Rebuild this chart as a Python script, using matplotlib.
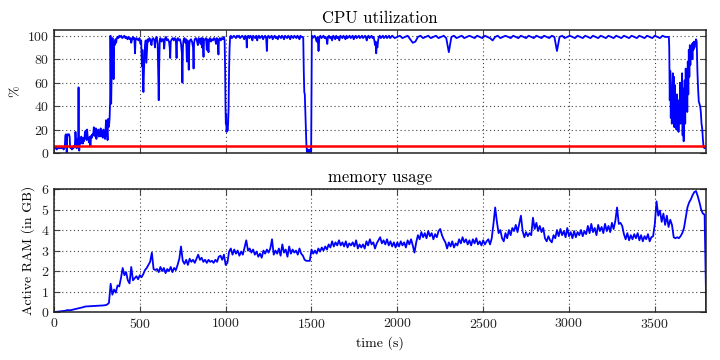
import numpy as np
import matplotlib
matplotlib.use("Agg")
import matplotlib.pyplot as plt

# ---------------- data ----------------
cpu_time = [
    0, 4, 8, 12, 16, 20, 24, 28, 32, 36,
    40, 44, 48, 52, 56, 60, 63, 66, 70, 73,
    74, 76, 79, 83, 87, 91, 94, 97, 101, 105,
    109, 113, 117, 121, 125, 129, 132, 135, 138, 141,
    143, 145, 147, 150, 153, 156, 159, 162, 165, 168,
    171, 174, 177, 180, 184, 187, 190, 193, 196, 200,
    203, 206, 209, 212, 215, 218, 221, 224, 228, 232,
    235, 238, 241, 244, 247, 250, 254, 258, 261, 264,
    268, 272, 275, 278, 282, 285, 288, 291, 294, 297,
    300, 303, 306, 309, 312, 315, 318, 321, 324, 327,
    329, 331, 333, 335, 337, 339, 341, 343, 345, 347,
    349, 351, 354, 358, 362, 366, 370, 375, 380, 386,
    392, 398, 404, 410, 416, 422, 428, 434, 440, 446,
    450, 455, 460, 465, 468, 472, 475, 480, 486, 492,
    498, 504, 508, 512, 515, 518, 521, 524, 527, 530,
    534, 538, 541, 545, 550, 556, 562, 568, 572, 578,
    584, 588, 592, 598, 604, 607, 610, 613, 616, 620,
    626, 632, 638, 642, 646, 652, 658, 664, 670, 674,
    677, 680, 686, 692, 698, 704, 710, 714, 717, 722,
    728, 734, 740, 745, 748, 751, 754, 760, 766, 770,
    774, 778, 782, 785, 788, 792, 798, 804, 810, 813,
    816, 820, 826, 832, 838, 842, 848, 854, 858, 862,
    866, 871, 874, 880, 886, 890, 894, 900, 903, 908,
    914, 920, 926, 932, 938, 944, 948, 954, 958, 961,
    966, 972, 978, 984, 990, 994, 997, 999, 1001, 1003,
    1005, 1008, 1011, 1014, 1017, 1020, 1023, 1026, 1030, 1036,
    1042, 1048, 1054, 1060, 1066, 1072, 1078, 1084, 1090, 1096,
    1102, 1108, 1114, 1120, 1123, 1126, 1132, 1138, 1144, 1150,
    1156, 1160, 1166, 1172, 1178, 1184, 1188, 1194, 1200, 1206,
    1212, 1218, 1224, 1230, 1236, 1240, 1243, 1250, 1256, 1262,
    1268, 1274, 1280, 1286, 1292, 1298, 1304, 1310, 1316, 1322,
    1328, 1334, 1340, 1346, 1352, 1358, 1364, 1370, 1376, 1382,
    1388, 1394, 1400, 1406, 1412, 1418, 1424, 1430, 1436, 1442,
    1448, 1452, 1455, 1458, 1461, 1464, 1467, 1470, 1473, 1476,
    1480, 1484, 1488, 1492, 1495, 1498, 1500, 1502, 1506, 1512,
    1518, 1524, 1530, 1536, 1541, 1546, 1552, 1558, 1564, 1570,
    1576, 1582, 1588, 1592, 1596, 1602, 1608, 1614, 1620, 1626,
    1632, 1638, 1644, 1650, 1656, 1662, 1668, 1674, 1680, 1686,
    1692, 1698, 1704, 1710, 1716, 1722, 1728, 1734, 1740, 1746,
    1752, 1758, 1764, 1770, 1776, 1782, 1788, 1794, 1800, 1806,
    1812, 1818, 1822, 1826, 1832, 1838, 1844, 1850, 1856, 1862,
    1866, 1870, 1874, 1877, 1880, 1884, 1888, 1892, 1898, 1904,
    1910, 1916, 1922, 1928, 1934, 1940, 1946, 1952, 1958, 1964,
    1970, 1985, 2000, 2015, 2030, 2045, 2060, 2075, 2090, 2105,
    2120, 2135, 2150, 2165, 2180, 2195, 2210, 2225, 2240, 2255,
    2270, 2285, 2300, 2315, 2330, 2345, 2360, 2375, 2390, 2405,
    2420, 2435, 2450, 2465, 2480, 2495, 2510, 2525, 2540, 2555,
    2570, 2585, 2600, 2615, 2630, 2645, 2660, 2675, 2690, 2705,
    2720, 2735, 2750, 2765, 2780, 2795, 2810, 2825, 2840, 2855,
    2870, 2885, 2900, 2915, 2930, 2945, 2960, 2975, 2990, 3005,
    3020, 3035, 3050, 3065, 3080, 3095, 3110, 3125, 3140, 3155,
    3170, 3185, 3200, 3215, 3230, 3245, 3260, 3275, 3290, 3305,
    3320, 3335, 3350, 3365, 3380, 3395, 3410, 3425, 3440, 3455,
    3470, 3485, 3500, 3515, 3530, 3545, 3560, 3575, 3580, 3582,
    3584, 3587, 3590, 3593, 3596, 3599, 3602, 3605, 3608, 3611,
    3614, 3617, 3620, 3623, 3626, 3629, 3632, 3635, 3638, 3641,
    3644, 3647, 3650, 3653, 3656, 3659, 3662, 3665, 3668, 3671,
    3674, 3677, 3680, 3683, 3686, 3689, 3692, 3695, 3698, 3701,
    3704, 3707, 3710, 3713, 3716, 3719, 3722, 3725, 3728, 3731,
    3734, 3737, 3740, 3744, 3748, 3752, 3756, 3760, 3764, 3768,
    3772, 3776, 3780, 3784, 3790, 3796,
]
cpu_pct = [
    3, 5, 4, 5, 3, 5, 4, 5, 4, 5,
    4, 5, 4, 5, 3, 4, 5, 15, 16, 14,
    0, 14, 16, 15, 16, 14, 5, 4, 5, 3,
    5, 4, 6, 5, 18, 10, 4, 12, 8, 13,
    56, 12, 2, 10, 13, 8, 14, 11, 12, 8,
    13, 10, 12, 17, 19, 15, 11, 20, 14, 13,
    9, 12, 14, 6, 12, 15, 13, 16, 15, 22,
    16, 19, 14, 21, 12, 18, 16, 20, 14, 19,
    17, 21, 14, 19, 18, 13, 20, 16, 18, 12,
    19, 28, 15, 20, 11, 29, 22, 24, 30, 44,
    100, 68, 42, 60, 96, 80, 98, 66, 90, 63,
    88, 95, 92, 97, 94, 98, 99, 98, 100, 99,
    100, 98, 99, 100, 98, 99, 97, 99, 97, 98,
    94, 97, 99, 97, 98, 85, 96, 98, 97, 96,
    98, 93, 96, 74, 88, 62, 52, 70, 82, 91,
    96, 77, 86, 97, 95, 98, 96, 92, 97, 98,
    96, 90, 97, 99, 93, 70, 45, 76, 96, 98,
    95, 97, 97, 89, 97, 99, 96, 97, 95, 90,
    81, 95, 97, 98, 96, 98, 96, 81, 97, 98,
    96, 97, 93, 85, 60, 90, 96, 98, 94, 97,
    78, 96, 84, 71, 92, 96, 97, 95, 90, 72,
    94, 97, 98, 96, 92, 98, 96, 93, 98, 90,
    98, 82, 96, 97, 98, 88, 97, 86, 96, 98,
    95, 97, 96, 98, 97, 93, 98, 96, 84, 97,
    98, 96, 98, 97, 99, 96, 70, 40, 25, 33,
    18, 22, 19, 24, 38, 72, 90, 99, 100, 98,
    99, 100, 99, 98, 100, 99, 100, 98, 99, 100,
    99, 97, 100, 99, 90, 99, 100, 98, 100, 99,
    96, 100, 99, 98, 100, 96, 99, 100, 98, 99,
    100, 97, 99, 100, 98, 87, 99, 100, 98, 99,
    100, 97, 99, 100, 98, 99, 97, 100, 99, 98,
    100, 99, 97, 100, 99, 98, 100, 99, 97, 100,
    99, 98, 100, 99, 98, 100, 99, 97, 100, 99,
    99, 98, 70, 52, 50, 35, 20, 8, 2, 0,
    3, 1, 0, 3, 1, 2, 60, 100, 98, 99,
    100, 98, 95, 99, 87, 99, 100, 98, 99, 100,
    98, 99, 97, 93, 99, 100, 98, 99, 96, 100,
    99, 97, 100, 98, 99, 96, 100, 99, 98, 100,
    99, 97, 100, 98, 99, 100, 98, 99, 100, 97,
    99, 100, 98, 99, 100, 98, 99, 100, 98, 99,
    100, 98, 96, 99, 100, 98, 99, 100, 98, 99,
    96, 92, 95, 85, 93, 90, 96, 99, 100, 98,
    99, 100, 98, 99, 100, 98, 99, 100, 98, 99,
    100, 98, 99, 100, 98, 99, 100, 97, 94, 95,
    99, 100, 98, 99, 100, 98, 99, 100, 98, 99,
    100, 98, 86, 99, 100, 98, 99, 100, 98, 99,
    100, 99, 98, 100, 99, 98, 100, 99, 98, 96,
    99, 100, 98, 99, 100, 99, 98, 100, 99, 98,
    100, 99, 98, 100, 99, 98, 100, 99, 98, 100,
    99, 98, 100, 99, 87, 99, 100, 98, 99, 100,
    99, 98, 100, 99, 98, 100, 99, 98, 100, 99,
    98, 100, 99, 98, 100, 99, 98, 100, 99, 98,
    100, 99, 98, 100, 99, 98, 100, 99, 98, 100,
    99, 98, 100, 99, 98, 100, 99, 99, 99, 98,
    90, 45, 70, 30, 55, 25, 60, 68, 40, 65,
    22, 58, 35, 48, 20, 50, 28, 45, 18, 42,
    30, 60, 25, 52, 40, 68, 15, 55, 10, 40,
    62, 25, 72, 45, 70, 35, 78, 50, 88, 65,
    92, 75, 90, 85, 93, 80, 94, 88, 95, 90,
    94, 93, 97, 95, 70, 55, 44, 42, 40, 35,
    25, 21, 12, 5, 4, 5,
]
cpu_baseline = 6.25  # red reference line (%)

mem_interval_s = 10
mem_gb = [
    0.00, 0.01, 0.02, 0.03, 0.04, 0.05, 0.06, 0.08, 0.10, 0.09,
    0.10, 0.12, 0.14, 0.16, 0.18, 0.20, 0.22, 0.24, 0.27, 0.28,
    0.28, 0.29, 0.29, 0.30, 0.30, 0.31, 0.31, 0.32, 0.32, 0.33,
    0.34, 0.37, 0.45, 1.38, 0.85, 1.10, 0.95, 1.30, 1.25, 1.65,
    2.15, 1.80, 1.95, 1.55, 1.40, 2.20, 1.55, 1.65, 1.75, 1.60,
    1.80, 1.70, 1.85, 2.05, 2.15, 2.30, 2.45, 2.90, 2.10, 2.05,
    2.10, 1.95, 2.20, 2.00, 2.15, 1.90, 2.10, 2.00, 2.20, 1.95,
    2.15, 2.05, 2.30, 2.60, 3.20, 2.50, 2.35, 2.55, 2.30, 2.60,
    2.45, 2.55, 2.40, 2.60, 2.80, 2.55, 2.65, 2.45, 2.55, 2.40,
    2.55, 2.45, 2.50, 2.40, 2.55, 2.45, 2.70, 2.75, 2.55, 2.80,
    2.30, 2.40, 2.95, 3.10, 2.80, 3.05, 2.85, 3.00, 2.75, 2.95,
    2.80, 3.15, 3.50, 3.00, 3.10, 2.90, 3.05, 2.80, 2.95, 2.70,
    2.85, 2.65, 3.00, 2.85, 3.05, 2.90, 3.10, 3.55, 2.80, 3.00,
    2.85, 3.10, 2.75, 3.30, 2.90, 3.05, 2.70, 3.20, 2.85, 3.05,
    2.90, 3.00, 2.80, 3.10, 2.85, 2.75, 2.55, 2.50, 2.50, 2.50,
    3.05, 2.85, 3.00, 2.85, 3.10, 2.95, 3.15, 3.00, 3.20, 3.05,
    3.30, 3.15, 3.45, 3.20, 3.40, 3.25, 3.50, 3.25, 3.40, 3.20,
    3.45, 3.15, 3.35, 3.25, 3.40, 3.20, 3.50, 3.10, 3.30, 3.15,
    3.30, 3.10, 3.45, 3.25, 3.55, 3.30, 3.40, 3.10, 3.35, 3.50,
    3.65, 3.35, 3.50, 3.30, 3.55, 3.25, 3.45, 3.20, 3.40, 3.15,
    3.40, 3.20, 3.45, 3.25, 3.40, 3.15, 3.50, 3.30, 3.55, 3.25,
    2.90, 3.40, 3.75, 3.55, 3.90, 3.65, 3.85, 3.60, 3.95, 3.70,
    3.85, 3.55, 3.80, 3.65, 3.95, 4.05, 3.75, 3.55, 3.40, 3.10,
    3.40, 3.20, 3.45, 3.15, 3.35, 3.25, 3.55, 3.35, 3.65, 3.40,
    3.55, 3.30, 3.50, 3.25, 3.55, 3.35, 3.60, 3.30, 3.45, 3.25,
    3.50, 3.30, 3.45, 3.55, 3.30, 3.60, 4.30, 5.10, 4.40, 3.85,
    4.00, 3.60, 3.45, 3.85, 3.60, 4.00, 3.75, 4.10, 3.95, 4.25,
    3.90, 4.30, 4.70, 3.95, 3.65, 3.90, 3.70, 3.85, 3.75, 4.60,
    4.05, 4.35, 3.95, 4.20, 3.90, 4.10, 3.60, 3.45, 3.70, 3.50,
    3.40, 3.75, 3.60, 4.00, 3.70, 4.05, 3.75, 3.95, 3.65, 4.10,
    3.70, 3.90, 3.60, 3.95, 3.65, 3.90, 3.75, 4.00, 3.70, 3.95,
    3.80, 4.20, 3.85, 4.30, 3.90, 4.10, 3.75, 4.25, 3.95, 4.15,
    3.85, 4.30, 3.95, 4.20, 3.90, 4.35, 4.05, 4.45, 5.10, 4.30,
    4.35, 4.20, 3.80, 3.55, 3.85, 3.50, 3.75, 3.55, 3.80, 3.60,
    3.85, 3.50, 3.75, 3.45, 3.70, 3.55, 3.80, 3.45, 3.65, 3.70,
    4.30, 5.40, 4.70, 4.95, 4.40, 4.80, 4.25, 4.70, 4.15, 4.50,
    4.25, 3.65, 3.60, 3.65, 3.60, 3.70, 3.85, 4.10, 4.60, 5.10,
    5.35, 5.50, 5.70, 5.85, 5.90, 5.65, 5.35, 5.00, 4.80, 4.75,
    0.00,
]

x_max = 3800
cpu_yticks = [0, 20, 40, 60, 80, 100]
mem_yticks = [0, 1, 2, 3, 4, 5, 6]
x_ticks = [0, 500, 1000, 1500, 2000, 2500, 3000, 3500]

# ---------------- style ----------------
plt.rcParams.update({
    "font.family": ["cmr10", "DejaVu Serif"],
    "mathtext.fontset": "cm",
    "axes.formatter.use_mathtext": True,
    "xtick.direction": "in",
    "ytick.direction": "in",
    "xtick.top": True,
    "ytick.right": True,
    "xtick.major.size": 4,
    "ytick.major.size": 4,
    "axes.linewidth": 1.1,
    "axes.edgecolor": "#222222",
})

fig = plt.figure(figsize=(7.2, 3.6), dpi=100)
ax1 = fig.add_axes([0.075, 0.575, 0.906, 0.342])
ax2 = fig.add_axes([0.075, 0.133, 0.906, 0.342])

mem_time = np.arange(len(mem_gb)) * mem_interval_s

ax1.plot(cpu_time, cpu_pct, color="#0000ff", lw=1.3)
ax1.axhline(cpu_baseline, color="#ff0000", lw=1.8)
ax1.set_xlim(0, x_max)
ax1.set_ylim(0, 105)
ax1.set_yticks(cpu_yticks)
ax1.set_xticks(x_ticks)
ax1.set_xticklabels([])
ax1.set_ylabel("%", fontsize=10)
ax1.set_title("CPU utilization", fontsize=12, pad=5)

ax2.plot(mem_time, mem_gb, color="#0000ff", lw=1.3)
ax2.set_xlim(0, x_max)
ax2.set_ylim(0, 6)
ax2.set_yticks(mem_yticks)
ax2.set_xticks(x_ticks)
ax2.set_ylabel("Active RAM (in GB)", fontsize=10)
ax2.set_xlabel("time (s)", fontsize=10)
ax2.set_title("memory usage", fontsize=12, pad=5)

for ax in (ax1, ax2):
    ax.grid(True, color="#444444", linestyle=(0, (1, 2.5)), linewidth=0.8)
    ax.tick_params(labelsize=10, colors="#444444", labelcolor="#222222")

fig.savefig("out.png", dpi=100)
